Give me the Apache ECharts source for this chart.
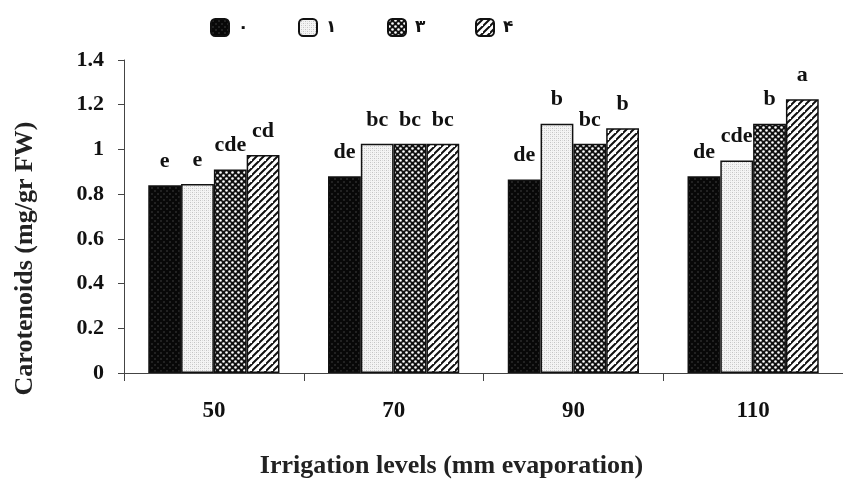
<!DOCTYPE html>
<html>
<head>
<meta charset="utf-8">
<script src="https://cdn.jsdelivr.net/npm/echarts@6/dist/echarts.min.js"></script>
<style>html,body{margin:0;padding:0;background:#fff;}#c{width:843px;height:484px;}</style>
</head>
<body>
<div id="c"></div>
<script>
const categories = ['50', '70', '90', '110'];
const seriesNames = ['۰', '۱', '۳', '۴'];
const values0 = [0.84, 0.88, 0.865, 0.88];
const values1 = [0.845, 1.025, 1.115, 0.95];
const values3 = [0.91, 1.025, 1.025, 1.115];
const values6 = [0.975, 1.025, 1.095, 1.225];
const letters0 = ['e', 'de', 'de', 'de'];
const letters1 = ['e', 'bc', 'b', 'cde'];
const letters3 = ['cde', 'bc', 'bc', 'b'];
const letters6 = ['cd', 'bc', 'b', 'a'];
const yTicks = { min: 0, max: 1.4, interval: 0.2 };

function makeTile(size, draw) {
  const cv = document.createElement('canvas');
  cv.width = size; cv.height = size;
  const ctx = cv.getContext('2d');
  draw(ctx, size);
  return { image: cv, repeat: 'repeat' };
}
const patBlack = makeTile(6, (ctx, s) => {
  ctx.fillStyle = '#080808'; ctx.fillRect(0, 0, s, s);
  ctx.fillStyle = '#222'; ctx.fillRect(1, 1, 2, 2); ctx.fillRect(4, 4, 2, 2);
});
const patLight = makeTile(4, (ctx, s) => {
  ctx.fillStyle = '#f4f4f4'; ctx.fillRect(0, 0, s, s);
  ctx.fillStyle = '#c4c4c4'; ctx.fillRect(0, 0, 1, 1); ctx.fillRect(2, 2, 1, 1);
  ctx.fillStyle = '#dcdcdc'; ctx.fillRect(2, 0, 1, 1); ctx.fillRect(0, 2, 1, 1);
});
const patCheck = makeTile(6, (ctx, s) => {
  ctx.fillStyle = '#111'; ctx.fillRect(0, 0, s, s);
  ctx.fillStyle = '#fff';
  ctx.beginPath(); ctx.arc(1.5, 1.5, 1.3, 0, Math.PI * 2); ctx.fill();
  ctx.beginPath(); ctx.arc(4.5, 4.5, 1.3, 0, Math.PI * 2); ctx.fill();
});
const patHatch = makeTile(7, (ctx, s) => {
  ctx.fillStyle = '#fff'; ctx.fillRect(0, 0, s, s);
  ctx.strokeStyle = '#111'; ctx.lineWidth = 2;
  ctx.beginPath();
  ctx.moveTo(-1, s + 1); ctx.lineTo(s + 1, -1);
  ctx.moveTo(-1 - s, s + 1); ctx.lineTo(1, -1);
  ctx.moveTo(s - 1, 2 * s + 1); ctx.lineTo(2 * s + 1, s - 1);
  ctx.stroke();
});

const fills = [patBlack, patLight, patCheck, patHatch];
const allValues = [values0, values1, values3, values6];
const allLetters = [letters0, letters1, letters3, letters6];
const legendLeft = [210, 298, 387, 475];
const serif = '"Liberation Serif", "Times New Roman", serif';

const series = seriesNames.map((name, i) => ({
  name: name,
  type: 'bar',
  barGap: '0%',
  barCategoryGap: '27%',
  data: allValues[i],
  itemStyle: { color: fills[i], borderColor: '#111', borderWidth: 1.5 },
  label: {
    show: true, position: 'top', distance: 13,
    fontFamily: serif, fontWeight: 'bold', fontSize: 22, color: '#111',
    formatter: p => allLetters[i][p.dataIndex]
  }
}));

const legends = seriesNames.map((name, i) => ({
  data: [name], left: legendLeft[i], top: 18, padding: 0,
  itemWidth: 18, itemHeight: 17,
  textStyle: { fontFamily: '"DejaVu Sans", sans-serif', fontWeight: 'bold', fontSize: 17, color: '#111', padding: [0, 0, 0, 4] },
  selectedMode: false
}));

const chart = echarts.init(document.getElementById('c'));
chart.setOption({
  animation: false,
  backgroundColor: '#fff',
  legend: legends,
  grid: { left: 124, top: 60, width: 730, height: 317, containLabel: false },
  xAxis: {
    type: 'category', data: categories,
    name: 'Irrigation levels (mm evaporation)', nameLocation: 'middle', nameGap: 80,
    nameTextStyle: { fontFamily: serif, fontWeight: 'bold', fontSize: 26, color: '#222', padding: [0, 64, 0, 0] },
    axisLine: { lineStyle: { color: '#444', width: 1 } },
    axisTick: { show: true, length: 8, lineStyle: { color: '#444' } },
    axisLabel: { margin: 27, fontFamily: serif, fontWeight: 'bold', fontSize: 23, color: '#111' },
    splitLine: { show: false }
  },
  yAxis: {
    type: 'value', min: yTicks.min, max: yTicks.max, interval: yTicks.interval,
    name: 'Carotenoids (mg/gr FW)', nameLocation: 'middle', nameGap: 86, nameRotate: 90,
    nameTextStyle: { fontFamily: serif, fontWeight: 'bold', fontSize: 26, color: '#222', padding: [0, 84, 0, 0] },
    axisLine: { show: true, lineStyle: { color: '#444', width: 1 } },
    axisTick: { show: true, length: 6, lineStyle: { color: '#444' } },
    axisLabel: { margin: 20, fontFamily: serif, fontWeight: 'bold', fontSize: 22, color: '#111' },
    splitLine: { show: false }
  },
  series: series
});
</script>
</body>
</html>
